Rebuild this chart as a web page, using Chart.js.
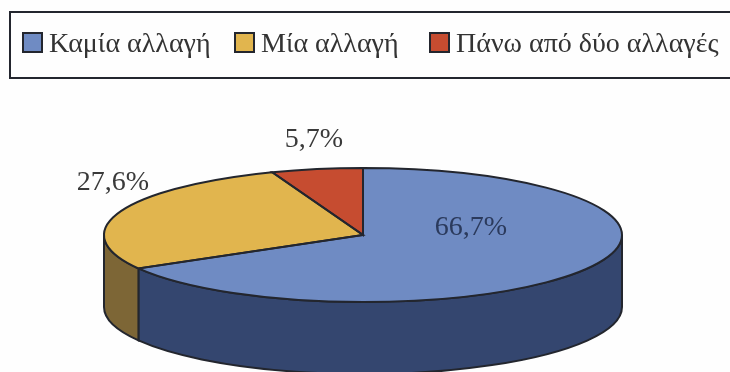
<!DOCTYPE html>
<html>
<head>
<meta charset="utf-8">
<style>
  html, body { margin: 0; padding: 0; background: #fefefe; overflow: hidden; }
  #wrap { width: 730px; height: 372px; }
  /* the reference is a soft scan */
  canvas { filter: blur(0.45px); }
</style>
<script src="https://cdn.jsdelivr.net/npm/chart.js@4"></script>
</head>
<body>
<div id="wrap"><canvas id="pieChart"></canvas></div>
<script>
const categories = ['Καμία αλλαγή', 'Μία αλλαγή', 'Πάνω από δύο αλλαγές'];
const values = [66.7, 27.6, 5.7];
const topColors = ['#6f8bc3', '#e1b54e', '#c64c30'];
const sideColors = ['#34466f', '#7d6636', '#7a2d1e'];
const labelColors = ['#2b3a5c', '#3a3a3a', '#3a3a3a'];
const labelSpots = [[471, 228], [113, 183], [314, 140]];
const legendSpots = [23, 235, 430];

// the pie is drawn flat by Chart.js, then squashed into this ellipse
const pie = { cx: 363, cy: 235, rx: 259, ry: 67, depth: 72 };
const outline = '#23262e';
const serif = '"Liberation Serif", serif';

function ellipsePath(ctx, a, b, dy, ccw) {
  ctx.ellipse(pie.cx, pie.cy + dy, pie.rx, pie.ry, 0, a, b, ccw);
}

function drawLegend(ctx) {
  // frame is open on the right like the scan
  ctx.beginPath();
  ctx.moveTo(730, 12);
  ctx.lineTo(10, 12);
  ctx.lineTo(10, 78);
  ctx.lineTo(730, 78);
  ctx.strokeStyle = outline;
  ctx.lineWidth = 2;
  ctx.stroke();

  ctx.font = '28px ' + serif;
  ctx.textAlign = 'left';
  ctx.textBaseline = 'middle';
  categories.forEach((name, i) => {
    const x = legendSpots[i];
    ctx.fillStyle = topColors[i];
    ctx.fillRect(x, 33, 19, 19);
    ctx.strokeStyle = outline;
    ctx.lineWidth = 2;
    ctx.strokeRect(x, 33, 19, 19);
    ctx.fillStyle = '#333333';
    ctx.fillText(name, x + 26, 45);
  });
}

const tiltPlugin = {
  id: 'tilt',
  beforeDraw(chart) {
    drawLegend(chart.ctx);
  },
  beforeDatasetDraw(chart, args) {
    const ctx = chart.ctx;
    // side wall, only the front half of the rim shows
    args.meta.data.forEach((arc, i) => {
      const a = Math.max(arc.startAngle, 0);
      const b = Math.min(arc.endAngle, Math.PI);
      if (a >= b) return;
      ctx.beginPath();
      ellipsePath(ctx, a, b, 0, false);
      ellipsePath(ctx, b, a, pie.depth, true);
      ctx.closePath();
      ctx.fillStyle = sideColors[i];
      ctx.fill();
      ctx.strokeStyle = outline;
      ctx.lineWidth = 2;
      ctx.stroke();
    });
    const c = args.meta.data[0];
    ctx.save();
    ctx.translate(pie.cx, pie.cy);
    ctx.scale(1, pie.ry / pie.rx);
    ctx.translate(-c.x, -c.y);
  },
  afterDatasetDraw(chart, args) {
    const ctx = chart.ctx;
    ctx.restore();
    args.meta.data.forEach(arc => {
      ctx.beginPath();
      ctx.moveTo(pie.cx, pie.cy);
      ellipsePath(ctx, arc.startAngle, arc.endAngle, 0, false);
      ctx.closePath();
      ctx.strokeStyle = outline;
      ctx.lineWidth = 2;
      ctx.stroke();
    });
    ctx.font = '28px ' + serif;
    ctx.textAlign = 'center';
    ctx.textBaseline = 'middle';
    values.forEach((v, i) => {
      ctx.fillStyle = labelColors[i];
      ctx.fillText(v.toFixed(1).replace('.', ',') + '%', labelSpots[i][0], labelSpots[i][1]);
    });
  }
};

new Chart(document.getElementById('pieChart'), {
  type: 'pie',
  data: {
    labels: categories,
    datasets: [{
      data: values,
      backgroundColor: topColors,
      borderWidth: 0,
      radius: pie.rx,
      clip: false
    }]
  },
  options: {
    responsive: true,
    maintainAspectRatio: false,
    animation: false,
    plugins: {
      tooltip: { enabled: false },
      legend: { display: false }
    }
  },
  plugins: [tiltPlugin]
});
</script>
</body>
</html>
